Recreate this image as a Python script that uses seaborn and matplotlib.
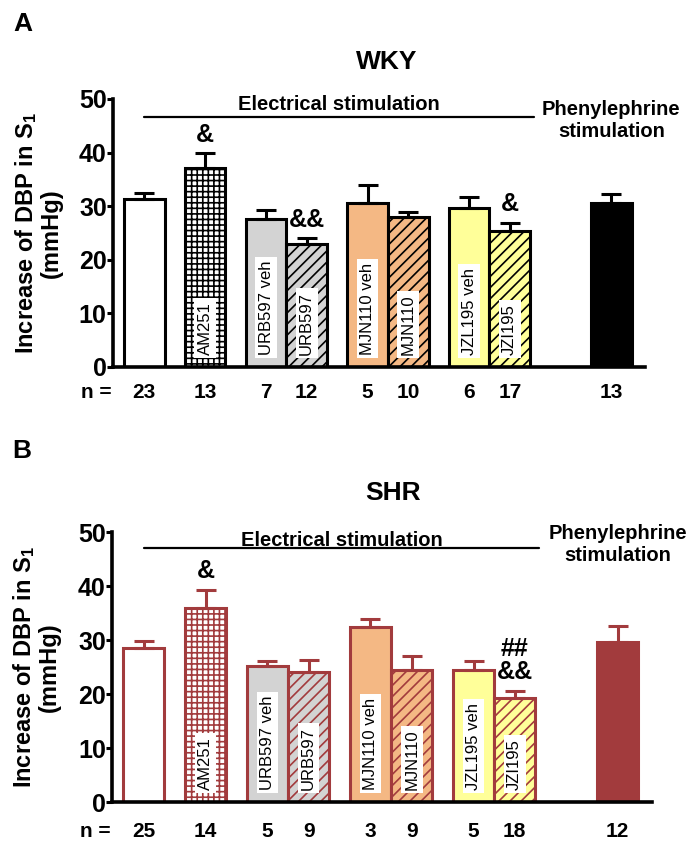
import numpy as np
import pandas as pd
import matplotlib
matplotlib.use('Agg')
import matplotlib.pyplot as plt
import seaborn as sns
from matplotlib.transforms import blended_transform_factory

# --- data ---
treatments = ['Control', 'AM251', 'URB597 veh', 'URB597', 'MJN110 veh',
              'MJN110', 'JZL195 veh', 'JZI195', 'Phenylephrine']
bar_labels = ['', 'AM251', 'URB597 veh', 'URB597', 'MJN110 veh',
              'MJN110', 'JZL195 veh', 'JZI195', '']
groups = [0, 1, 2, 2, 3, 3, 4, 4, 5]

wky_mean = [31.3, 37.1, 27.6, 22.9, 30.6, 28.0, 29.7, 25.4, 30.6]
wky_sem = [1.2, 2.8, 1.7, 1.1, 3.4, 1.0, 2.0, 1.5, 1.7]
wky_n = [23, 13, 7, 12, 5, 10, 6, 17, 13]
wky_marks = ['', '&', '', '&&', '', '', '', '&', '']

shr_mean = [28.5, 35.9, 25.2, 24.1, 32.4, 24.4, 24.4, 19.3, 29.6]
shr_sem = [1.3, 3.4, 0.9, 2.2, 1.5, 2.6, 1.7, 1.3, 3.0]
shr_n = [25, 14, 5, 9, 3, 9, 5, 18, 12]
shr_marks = ['', '&', '', '', '', '', '', '##\n&&', '']

# --- styles ---
fills = ['white', 'white', '#D3D3D3', '#D3D3D3', '#F4B884', '#F4B884',
         '#FFFF99', '#FFFF99']
hatches = ['', '+++', '', '///', '', '///', '', '///', '']

# x positions: bars of one drug touch, drugs separated by a half-bar gap,
# phenylephrine set apart
x_pos = [0.0]
for i in range(1, len(groups)):
    step = 1.0 if groups[i] == groups[i - 1] else 1.5
    if groups[i] == 5:
        step += 1.0
    x_pos.append(x_pos[-1] + step)

sns.set_theme(style='white')
plt.rcParams['font.family'] = ['Liberation Sans', 'DejaVu Sans']
plt.rcParams['hatch.linewidth'] = 1.2
plt.rcParams['mathtext.default'] = 'regular'
for key in ('text.color', 'axes.labelcolor', 'xtick.color', 'ytick.color'):
    plt.rcParams[key] = 'black'

W, H = 696, 851
fig = plt.figure(figsize=(W / 100, H / 100), dpi=100)


def draw_panel(rect, mean, sem, n, marks, edge, last_fill, title, letter,
               title_xy, letter_xy, elec_y, line_y, phe_y, n_y, ylab_x):
    ax = fig.add_axes(rect)
    df = pd.DataFrame({'x': x_pos, 'y': mean, 'treat': treatments})
    palette = dict(zip(treatments, fills + [last_fill]))
    sns.barplot(data=df, x='x', y='y', hue='treat', hue_order=treatments,
                palette=palette, native_scale=True, width=1.0, dodge=False,
                errorbar=None, legend=False, saturation=1, edgecolor=edge,
                linewidth=2.2, ax=ax)
    bars = sorted(ax.patches, key=lambda p: p.get_x())
    for p, h in zip(bars, hatches):
        p.set_hatch(h)
        p.set_edgecolor(edge)

    ax.errorbar(x_pos, mean, yerr=[np.zeros(len(sem)), sem], fmt='none',
                ecolor=edge, elinewidth=2.2, capsize=7, capthick=2.2)

    for x, lab in zip(x_pos, bar_labels):
        if lab:
            ax.text(x, 2.3, lab, rotation=90, ha='center', va='bottom',
                    fontsize=12, color='black', zorder=4,
                    bbox=dict(boxstyle='square,pad=0.2', fc='white', ec='none'))

    for x, m, s, mk in zip(x_pos, mean, sem, marks):
        if mk:
            ax.text(x, m + s + 1.2, mk, ha='center', va='bottom', fontsize=18,
                    fontweight='bold', linespacing=0.95)

    # stimulation annotations
    x_end = x_pos[7] + 0.6
    ax.plot([x_pos[0], x_end], [line_y, line_y], color='black', lw=1.6,
            clip_on=False)
    ax.text((x_pos[0] + x_end) / 2, elec_y, 'Electrical stimulation',
            ha='center', va='center', fontsize=14.5, fontweight='bold')
    ax.text(x_pos[8], phe_y, 'Phenylephrine\nstimulation', ha='center',
            va='center', fontsize=14.5, fontweight='bold', linespacing=1.2)

    # n row
    trans = blended_transform_factory(ax.transData, ax.transAxes)
    ax.text(-1.18, n_y, 'n =', transform=trans, ha='center', va='center',
            fontsize=15, fontweight='bold')
    for x, cnt in zip(x_pos, n):
        ax.text(x, n_y, str(cnt), transform=trans, ha='center', va='center',
                fontsize=15, fontweight='bold')

    ax.set_xlim(-0.77, 12.33)
    ax.set_ylim(0, 50)
    ax.set_xticks([])
    ax.set_yticks(range(0, 51, 10), labels=[str(v) for v in range(0, 51, 10)],
                  fontsize=18, fontweight='bold')
    ax.tick_params(axis='y', length=4, width=2.2, direction='out', pad=0.5,
                   left=True)
    ax.set_xlabel('')
    ax.set_ylabel('')
    sns.despine(ax=ax)
    for side in ('left', 'bottom'):
        ax.spines[side].set_linewidth(2.6)
        ax.spines[side].set_color('black')

    bbox = ax.get_position()
    fig.text(ylab_x, (bbox.y0 + bbox.y1) / 2,
             'Increase of DBP in S$_1$\n(mmHg)', rotation=90, ha='center',
             va='center', fontsize=17, fontweight='bold', linespacing=1.1)
    fig.text(title_xy[0] / W, 1 - title_xy[1] / H, title, ha='center',
             va='center', fontsize=19, fontweight='bold')
    fig.text(letter_xy[0] / W, 1 - letter_xy[1] / H, letter, ha='left',
             va='center', fontsize=19, fontweight='bold')
    return ax


draw_panel([113 / W, 1 - 367 / H, 532 / W, 268 / H], wky_mean, wky_sem, wky_n,
           wky_marks, 'black', 'black', 'WKY', 'A', (387, 62), (13, 24),
           elec_y=48.9, line_y=46.6, phe_y=46.0, n_y=-0.095,
           ylab_x=38 / W)
draw_panel([112 / W, 1 - 802 / H, 540 / W, 270 / H], shr_mean, shr_sem, shr_n,
           shr_marks, '#A23B3D', '#A23B3D', 'SHR', 'B', (393, 493), (12, 451),
           elec_y=48.5, line_y=47.0, phe_y=47.6, n_y=-0.11,
           ylab_x=36 / W)

fig.savefig('out.png', dpi=100)
